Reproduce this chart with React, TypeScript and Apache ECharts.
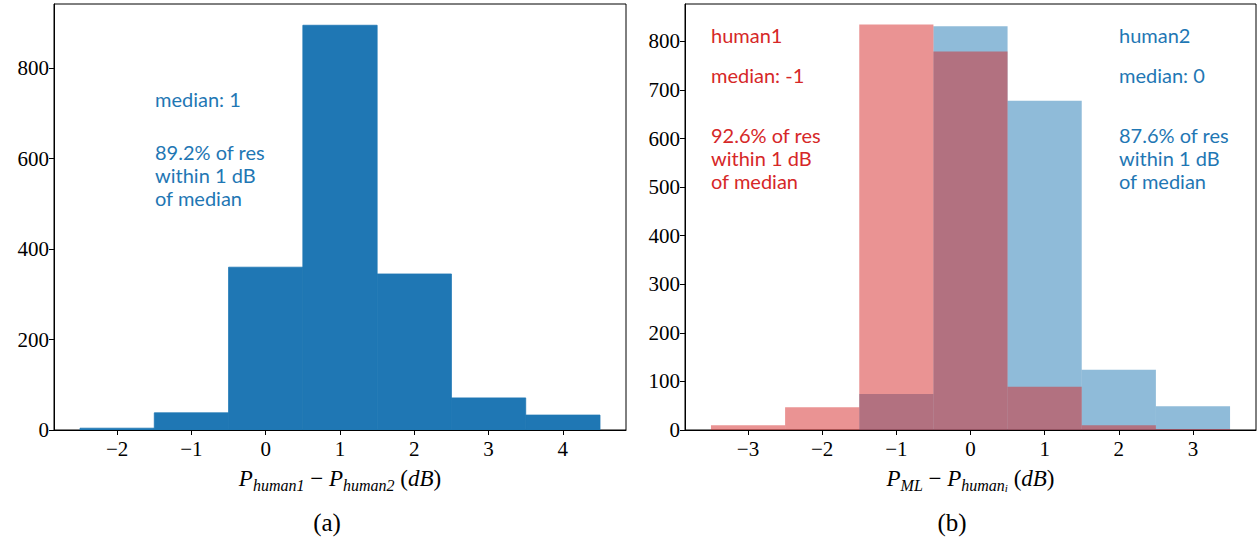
import React, { useEffect, useRef } from "react";
import * as echarts from "echarts";

const leftBinEdges = [-2.5, -1.5, -0.5, 0.5, 1.5, 2.5, 3.5, 4.5];
const leftCounts = [4, 38, 360, 895, 345, 71, 33];
const leftXTicks = [-2, -1, 0, 1, 2, 3, 4];
const leftYTicks = [0, 200, 400, 600, 800];

const rightBinEdges = [-3.5, -2.5, -1.5, -0.5, 0.5, 1.5, 2.5, 3.5];
const human1Counts = [10, 47, 835, 779, 89, 10, 2];
const human2Counts = [0, 0, 74, 831, 678, 124, 49];
const rightXTicks = [-3, -2, -1, 0, 1, 2, 3];
const rightYTicks = [0, 100, 200, 300, 400, 500, 600, 700, 800];

const BLUE = "#1f77b4";
const RED = "#d62728";

function binData(edges: number[], counts: number[]) {
  return counts.map((c, i) => [edges[i], edges[i + 1], c]);
}

function histSeries(gridIndex: number, data: number[][], fill: string, stroke?: string) {
  return {
    type: "custom",
    xAxisIndex: gridIndex,
    yAxisIndex: gridIndex,
    clip: true,
    dimensions: ["x0", "x1", "count"],
    encode: { x: [0, 1], y: 2 },
    data,
    renderItem: (params: any, api: any) => {
      const x0 = api.value(0);
      const x1 = api.value(1);
      const y = api.value(2);
      const p0 = api.coord([x0, y]);
      const p1 = api.coord([x1, 0]);
      return {
        type: "rect",
        shape: { x: p0[0], y: p0[1], width: p1[0] - p0[0], height: p1[1] - p0[1] },
        style: stroke ? { fill, stroke, lineWidth: 0.8 } : { fill },
      };
    },
  };
}

const serif = "'Liberation Serif', 'DejaVu Serif', serif";
const sans = "Lato, 'Noto Sans', sans-serif";
const fmt = (v: number) => String(v).replace("-", "\u2212");

function xAxis(gridIndex: number, min: number, max: number, ticks: number[], name: string) {
  return {
    type: "value",
    gridIndex,
    min,
    max,
    splitLine: { show: false },
    axisLine: { show: true, onZero: false, lineStyle: { color: "#000", width: 1 } },
    axisTick: { show: true, length: 5, customValues: ticks, lineStyle: { color: "#000" } },
    axisLabel: {
      customValues: ticks,
      formatter: fmt,
      fontFamily: serif,
      fontSize: 21,
      color: "#000",
      margin: 8,
    },
    name,
    nameLocation: "middle",
    nameGap: 33,
    nameTextStyle: {
      color: "#000",
      rich: {
        m: { fontFamily: serif, fontStyle: "italic", fontSize: 23, lineHeight: 30, verticalAlign: "middle", color: "#000" },
        r: { fontFamily: serif, fontSize: 23, lineHeight: 30, verticalAlign: "middle", color: "#000" },
        s: { fontFamily: serif, fontStyle: "italic", fontSize: 16, lineHeight: 15, verticalAlign: "bottom", color: "#000" },
        ss: { fontFamily: serif, fontStyle: "italic", fontSize: 11, lineHeight: 11, verticalAlign: "bottom", color: "#000" },
      },
    },
  };
}

function yAxis(gridIndex: number, max: number, ticks: number[]) {
  return {
    type: "value",
    gridIndex,
    min: 0,
    max,
    splitLine: { show: false },
    axisLine: { show: true, onZero: false, lineStyle: { color: "#000", width: 1 } },
    axisTick: { show: true, length: 5, customValues: ticks, lineStyle: { color: "#000" } },
    axisLabel: {
      customValues: ticks,
      formatter: fmt,
      fontFamily: serif,
      fontSize: 21,
      color: "#000",
      margin: 5,
    },
  };
}

function txt(x: number, y: number, text: string, fill: string, size = 20, family = sans) {
  return {
    type: "text",
    x,
    y,
    style: { text, fill, font: `${size}px ${family}`, textVerticalAlign: "middle", textAlign: "left" },
  };
}

export default function App() {
  const ref = useRef<HTMLDivElement>(null);
  useEffect(() => {
    document.body.style.margin = "0";
    if (!ref.current) return;
    const chart = echarts.init(ref.current, null, { renderer: "svg" });
    const option: any = {
      animation: false,
      backgroundColor: "#fff",
      grid: [
        { left: 54, top: 4, width: 572, height: 426, show: true, borderColor: "#000", borderWidth: 1, backgroundColor: "transparent" },
        { left: 685, top: 4, width: 571, height: 426, show: true, borderColor: "#000", borderWidth: 1, backgroundColor: "transparent" },
      ],
      xAxis: [
        xAxis(0, -2.85, 4.85, leftXTicks, "{m|P}{s|human1}{r| \u2212 }{m|P}{s|human2}{r| (}{m|dB}{r|)}"),
        xAxis(1, -3.85, 3.85, rightXTicks, "{m|P}{s|ML}{r| \u2212 }{m|P}{s|human}{ss|i}{r| (}{m|dB}{r|)}"),
      ],
      yAxis: [yAxis(0, 942, leftYTicks), yAxis(1, 877, rightYTicks)],
      series: [
        histSeries(0, binData(leftBinEdges, leftCounts), BLUE, BLUE),
        histSeries(1, binData(rightBinEdges, human2Counts), "rgba(31,119,180,0.5)"),
        histSeries(1, binData(rightBinEdges, human1Counts), "rgba(214,39,40,0.5)"),
      ],
      graphic: [
        txt(155, 99, "median: 1", BLUE),
        txt(155, 152, "89.2% of res", BLUE),
        txt(155, 175, "within 1 dB", BLUE),
        txt(155, 198, "of median", BLUE),
        txt(711, 35, "human1", RED),
        txt(711, 75, "median: -1", RED),
        txt(711, 135, "92.6% of res", RED),
        txt(711, 158, "within 1 dB", RED),
        txt(711, 181, "of median", RED),
        txt(1119, 35, "human2", BLUE),
        txt(1119, 75, "median: 0", BLUE),
        txt(1119, 135, "87.6% of res", BLUE),
        txt(1119, 158, "within 1 dB", BLUE),
        txt(1119, 181, "of median", BLUE),
        { type: "text", x: 327, y: 522, style: { text: "(a)", fill: "#000", font: `25px ${serif}`, textAlign: "center", textVerticalAlign: "middle" } },
        { type: "text", x: 952, y: 522, style: { text: "(b)", fill: "#000", font: `25px ${serif}`, textAlign: "center", textVerticalAlign: "middle" } },
      ],
    };
    chart.setOption(option);
    return () => chart.dispose();
  }, []);
  return <div ref={ref} style={{ width: 1257, height: 539 }} />;
}
